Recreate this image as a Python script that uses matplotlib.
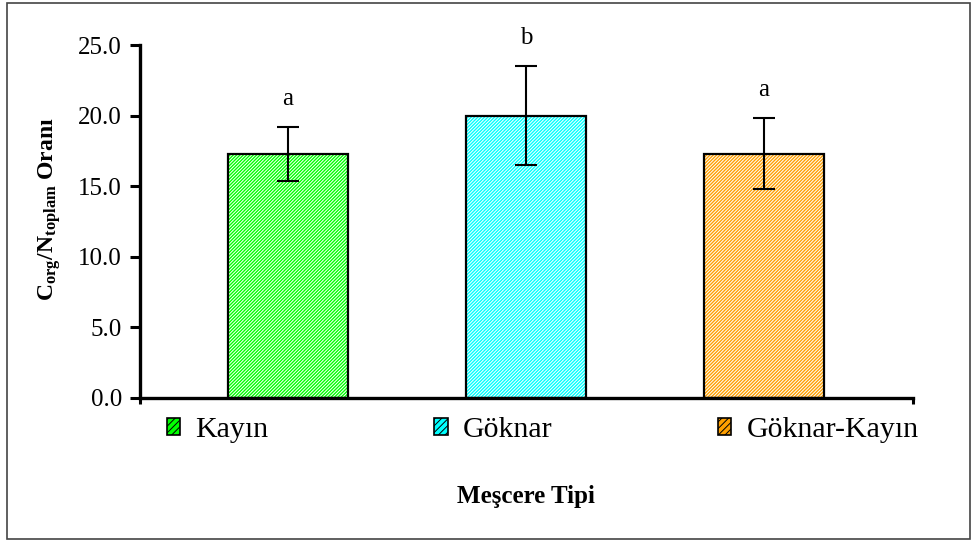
import matplotlib
matplotlib.use("Agg")
import matplotlib.pyplot as plt
from matplotlib.patches import Patch, Rectangle

# Data
categories = ["Kayın", "Göknar", "Göknar-Kayın"]
ratio_mean = [17.3, 20.0, 17.3]
ratio_err = [1.9, 3.5, 2.5]
group_letters = ["a", "b", "a"]
bar_colors = ["#00ff00", "#00ffff", "#ffa000"]
y_ticks = [0, 5, 10, 15, 20, 25]

plt.rcParams["font.family"] = ["Liberation Serif", "DejaVu Serif"]
plt.rcParams["mathtext.fontset"] = "custom"
plt.rcParams["mathtext.rm"] = "Liberation Serif"
plt.rcParams["mathtext.bf"] = "Liberation Serif:bold"
plt.rcParams["mathtext.it"] = "Liberation Serif:italic"
plt.rcParams["hatch.linewidth"] = 0.7

W, H = 978, 542
fig = plt.figure(figsize=(W / 100, H / 100), dpi=100)
ax = fig.add_axes([140 / W, 1 - 398 / H, (913 - 140) / W, (398 - 45) / H])

x = list(range(len(categories)))
width = 0.504
hatch = "/" * 10

# hatched fill (white hatch on colour), then black outline on top
ax.bar(x, ratio_mean, width=width, color=bar_colors, edgecolor="white",
       hatch=hatch, linewidth=0, zorder=2)
ax.bar(x, ratio_mean, width=width, fill=False, edgecolor="black",
       linewidth=1.6, zorder=3)
ax.errorbar(x, ratio_mean, yerr=ratio_err, fmt="none", ecolor="black",
            elinewidth=1.5, capsize=8, capthick=1.5, zorder=4)

for xi, m, e, lab in zip(x, ratio_mean, ratio_err, group_letters):
    ax.annotate(lab, (xi, m + e), xytext=(0, 16), textcoords="offset points",
                ha="center", va="baseline", fontsize=18)

ax.set_ylim(0, 25)
ax.set_xlim(-0.622, 2.626)
ax.set_yticks(y_ticks)
ax.set_yticklabels([f"{v:.1f}" for v in y_ticks], fontsize=18)
ax.set_xticks(ax.get_xlim())
ax.set_xticklabels(["", ""])
ax.tick_params(axis="y", direction="out", length=7, width=2.2, pad=6)
ax.tick_params(axis="x", direction="out", length=4, width=2.2)
for s in ("top", "right"):
    ax.spines[s].set_visible(False)
for s in ("left", "bottom"):
    ax.spines[s].set_linewidth(2.4)
ax.patch.set_visible(False)

ax.set_ylabel(r"$\mathbf{C_{org}/N_{toplam}}$ $\mathbf{Oranı}$", fontsize=17)
ax.yaxis.set_label_coords(-77 / (913 - 140), 0.535)

fig.text(526 / W, 1 - 497 / H, "Meşcere Tipi", ha="center", va="center",
         fontsize=18, fontweight="bold")

handles = [Patch(facecolor=c, edgecolor="black", hatch="/////", linewidth=1.2)
           for c in bar_colors]
fig.legend(handles, categories, loc="center left",
           bbox_to_anchor=(167 / W, 1 - 430 / H), ncol=3, frameon=False,
           fontsize=21.5, handlelength=0.45, handleheight=0.5,
           handletextpad=0.5, columnspacing=5.55, borderpad=0,
           borderaxespad=0)

fig.patches.append(Rectangle((7 / W, 3 / H), (970 - 7) / W, (539 - 3) / H,
                             transform=fig.transFigure, fill=False,
                             edgecolor="#444444", linewidth=1.2))

fig.savefig("out.png", dpi=100)
